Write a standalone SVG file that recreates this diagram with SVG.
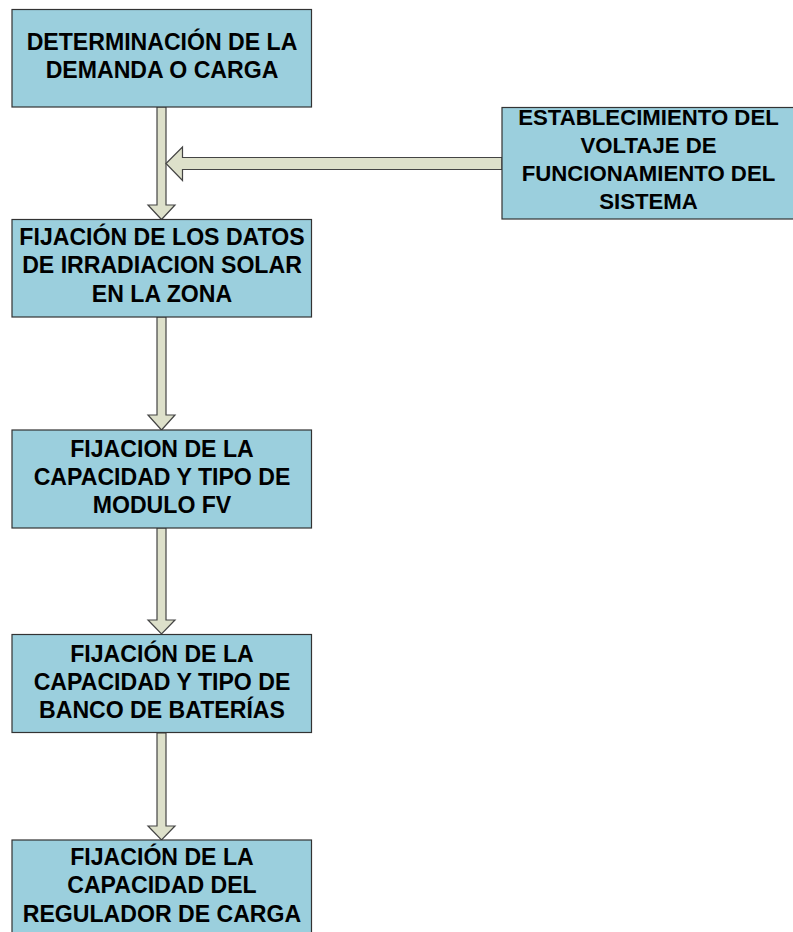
<svg xmlns="http://www.w3.org/2000/svg" width="793" height="932" viewBox="0 0 793 932">
<style>
.box{fill:#9BCFDD;stroke:#333;stroke-width:1.2}
.t{font-family:"Liberation Sans",Arial,sans-serif;font-weight:bold;font-size:23.1px;fill:#000;text-anchor:middle}
.s{font-size:22.2px}
.arr{fill:#DDE0CA;stroke:#444;stroke-width:1.2;stroke-linejoin:miter}
</style>
<rect width="793" height="932" fill="#fff"/>
<g id="connectors">
<path class="arr" d="M157,107 V205 H148 L161.5,219.5 L175,205 H166 V107 Z"/>
<path class="arr" d="M157,317 V415 H148 L161.5,430 L175,415 H166 V317 Z"/>
<path class="arr" d="M157,528 V620 H148 L161.5,634 L175,620 H166 V528 Z"/>
<path class="arr" d="M157,733 V826 H148 L161.5,840 L175,826 H166 V733 Z"/>
<path class="arr" d="M502,157.5 H182.5 V147 L166,163.5 L182.5,180.5 V169.5 H502 Z"/>
</g>
<g id="n1">
<rect class="box" x="12" y="9.5" width="299.5" height="97.5"/>
<text class="t" x="162" y="49.5">DETERMINACIÓN DE LA</text>
<text class="t" x="162" y="78">DEMANDA O CARGA</text>
</g>
<g id="n2">
<rect class="box" x="12" y="219.5" width="299.5" height="97.5"/>
<text class="t" x="162" y="245">FIJACIÓN DE LOS DATOS</text>
<text class="t" x="162" y="273.3">DE IRRADIACION SOLAR</text>
<text class="t" x="162" y="301.6">EN LA ZONA</text>
</g>
<g id="n3">
<rect class="box" x="12" y="430" width="299.5" height="98"/>
<text class="t" x="162" y="456.6">FIJACION DE LA</text>
<text class="t" x="162" y="484.9">CAPACIDAD Y TIPO DE</text>
<text class="t" x="162" y="513.2">MODULO FV</text>
</g>
<g id="n4">
<rect class="box" x="12" y="634.5" width="299.5" height="98"/>
<text class="t" x="162" y="661.5">FIJACIÓN DE LA</text>
<text class="t" x="162" y="689.8">CAPACIDAD Y TIPO DE</text>
<text class="t" x="162" y="718.1">BANCO DE BATERÍAS</text>
</g>
<g id="n5">
<rect class="box" x="12" y="840" width="299.5" height="100"/>
<text class="t" x="162" y="865">FIJACIÓN DE LA</text>
<text class="t" x="162" y="893.3">CAPACIDAD DEL</text>
<text class="t" x="162" y="921.6">REGULADOR DE CARGA</text>
</g>
<g id="n6">
<rect class="box" x="502" y="107.5" width="300" height="111.5"/>
<text class="t s" x="648.5" y="124.5">ESTABLECIMIENTO DEL</text>
<text class="t s" x="648.5" y="152.8">VOLTAJE DE</text>
<text class="t s" x="648.5" y="181.1">FUNCIONAMIENTO DEL</text>
<text class="t s" x="648.5" y="209.4">SISTEMA</text>
</g>
</svg>
